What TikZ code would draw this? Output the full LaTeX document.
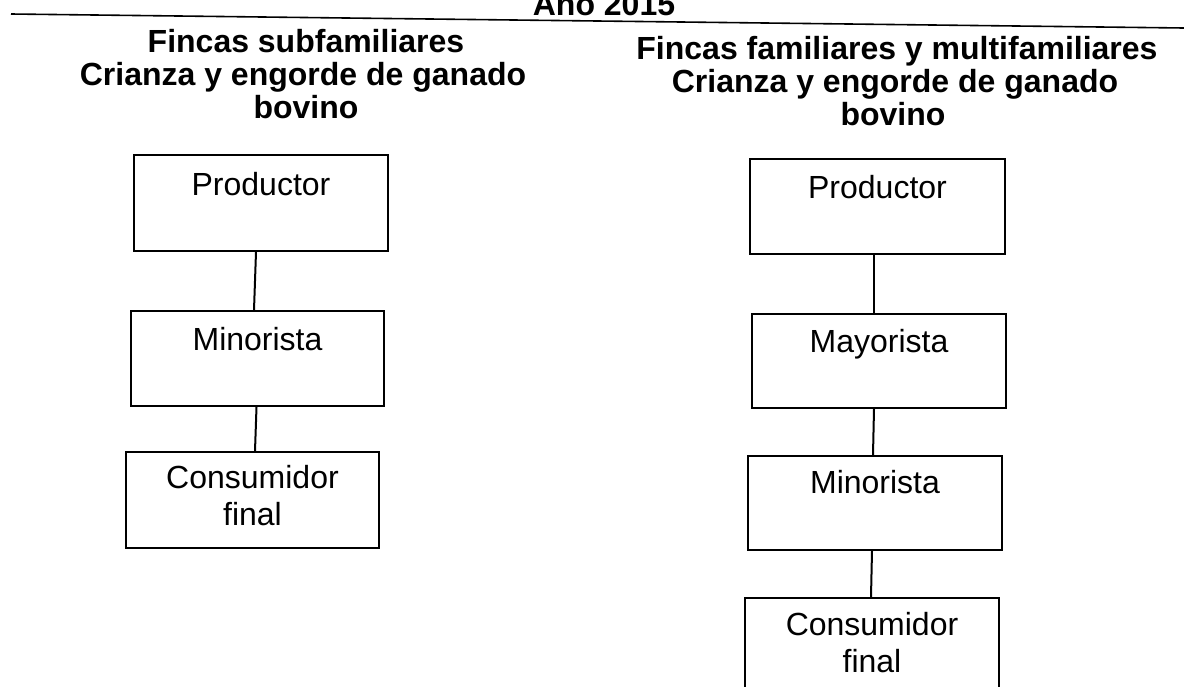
\documentclass[tikz,border=0pt]{standalone}
\usepackage{fontspec}
\setmainfont{Liberation Sans}
\begin{document}
\begin{tikzpicture}[x=1pt,y=-1pt,
  box/.style={draw, line width=2pt, inner sep=0pt, anchor=north west},
  lbl/.style={anchor=base, inner sep=0pt, font=\fontsize{32}{38}\selectfont},
  ttl/.style={anchor=base, inner sep=0pt, font=\fontsize{32}{38}\selectfont\bfseries},
  conn/.style={line width=2pt},
  rule/.style={line width=1.6pt}]
\useasboundingbox (0,0) rectangle (1184,686);
\clip (0,0) rectangle (1184,686);
\fill[white] (0,0) rectangle (1184,686);

% heading
\node[ttl] (anio) at (604,15) {Año 2015};
\coordinate (rl) at (11,14);
\coordinate (rr) at (1184,28);
\draw[rule] (rl) -- (rr);

% left title
\node[ttl] (lt1) at (306,52) {Fincas subfamiliares};
\node[ttl] (lt2) at (303,85) {Crianza y engorde de ganado};
\node[ttl] (lt3) at (306,118) {bovino};

% right title
\node[ttl] (rt1) at (897,59) {Fincas familiares y multifamiliares};
\node[ttl] (rt2) at (895,92) {Crianza y engorde de ganado};
\node[ttl] (rt3) at (893,125) {bovino};

% left chain
\node[box, minimum width=254pt, minimum height=96pt] (p1) at (133,154) {};
\node[box, minimum width=253pt, minimum height=95pt] (m1) at (130,310) {};
\node[box, minimum width=253pt, minimum height=96pt] (c1) at (125,451) {};
\node[lbl] (p1t) at ([yshift=-41pt]p1.north) {Productor};
\node[lbl] (m1t) at ([yshift=-40pt]m1.north) {Minorista};
\node[lbl] (c1t) at ([yshift=-37pt]c1.north) {Consumidor};
\node[lbl] (c1u) at ([yshift=-74pt]c1.north) {final};
\draw[conn] ([xshift=-5pt]p1.south) -- ([xshift=-3.5pt]m1.north);
\draw[conn] ([xshift=-1pt]m1.south) -- ([xshift=2.5pt]c1.north);

% right chain
\node[box, minimum width=255pt, minimum height=95pt] (p2) at (749,158) {};
\node[box, minimum width=254pt, minimum height=94pt] (ma2) at (751,313) {};
\node[box, minimum width=254pt, minimum height=94pt] (mi2) at (747,455) {};
\node[box, minimum width=254pt, minimum height=120pt] (c2) at (744,597) {};
\node[lbl] (p2t) at ([yshift=-40pt]p2.north) {Productor};
\node[lbl] (ma2t) at ([yshift=-39pt]ma2.north) {Mayorista};
\node[lbl] (mi2t) at ([yshift=-38pt]mi2.north) {Minorista};
\node[lbl] (c2t) at ([yshift=-38pt]c2.north) {Consumidor};
\node[lbl] (c2u) at ([yshift=-75pt]c2.north) {final};
\draw[conn] ([xshift=-3.5pt]p2.south) -- ([xshift=-5pt]ma2.north);
\draw[conn] ([xshift=-5pt]ma2.south) -- ([xshift=-2pt]mi2.north);
\draw[conn] ([xshift=-3pt]mi2.south) -- ([xshift=-1pt]c2.north);
\end{tikzpicture}
\end{document}
